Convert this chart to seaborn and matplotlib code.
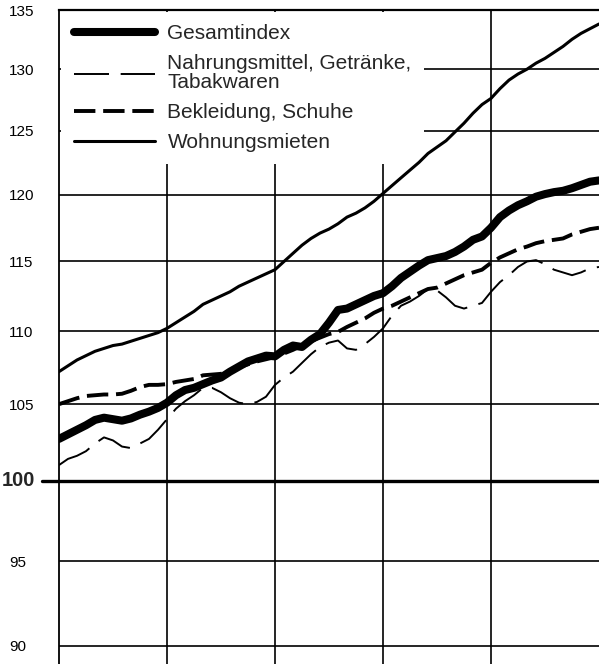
import numpy as np
import pandas as pd
import seaborn as sns
import matplotlib.pyplot as plt
from matplotlib.ticker import NullLocator, NullFormatter
import matplotlib.transforms as mtransforms


# monthly index values (5 years, 12 months each)
monate = list(range(61))

gesamtindex = [102.7, 103.0, 103.3, 103.6, 103.95, 104.1, 104.0, 103.9, 104.05, 104.3,
               104.5, 104.75, 105.1, 105.6, 105.95, 106.1, 106.35, 106.6, 106.8, 107.2,
               107.55, 107.9, 108.1, 108.3, 108.25, 108.7, 109.0, 108.9, 109.4, 109.8,
               110.6, 111.5, 111.6, 111.9, 112.2, 112.5, 112.7, 113.2, 113.8, 114.25,
               114.7, 115.1, 115.25, 115.4, 115.7, 116.1, 116.6, 116.85, 117.5, 118.3,
               118.8, 119.2, 119.5, 119.85, 120.05, 120.2, 120.3, 120.5, 120.75, 121.0,
               121.1]

nahrung = [101.0, 101.4, 101.6, 101.9, 102.4, 102.8, 102.6, 102.2, 102.1, 102.4,
           102.7, 103.3, 104.0, 104.7, 105.2, 105.6, 106.1, 106.1, 105.8, 105.4,
           105.1, 105.0, 105.15, 105.5, 106.3, 106.8, 107.2, 107.8, 108.4, 108.9,
           109.2, 109.35, 108.8, 108.7, 109.1, 109.6, 110.2, 111.1, 111.8, 112.1,
           112.5, 113.0, 112.9, 112.4, 111.8, 111.6, 111.8, 112.0, 112.8, 113.5,
           114.0, 114.6, 115.0, 115.1, 114.8, 114.4, 114.2, 114.0, 114.2, 114.5,
           114.6]

bekleidung = [105.0, 105.2, 105.4, 105.55, 105.6, 105.65, 105.65, 105.7, 105.9, 106.15,
              106.3, 106.3, 106.35, 106.5, 106.6, 106.7, 106.95, 107.0, 107.05, 107.3,
              107.5, 107.7, 107.9, 108.05, 108.2, 108.45, 108.7, 109.0, 109.3, 109.55,
              109.8, 109.95, 110.3, 110.6, 110.9, 111.3, 111.6, 111.8, 112.1, 112.4,
              112.7, 113.0, 113.1, 113.4, 113.7, 114.0, 114.2, 114.4, 114.9, 115.3,
              115.6, 115.9, 116.1, 116.35, 116.5, 116.6, 116.7, 117.0, 117.2, 117.4,
              117.5]

mieten = [107.2, 107.6, 108.0, 108.3, 108.6, 108.8, 109.0, 109.1, 109.3, 109.5,
          109.7, 109.9, 110.2, 110.6, 111.0, 111.4, 111.9, 112.2, 112.5, 112.8,
          113.2, 113.5, 113.8, 114.1, 114.4, 115.0, 115.6, 116.2, 116.7, 117.1,
          117.4, 117.8, 118.3, 118.6, 119.0, 119.5, 120.1, 120.7, 121.3, 121.9,
          122.5, 123.2, 123.7, 124.2, 124.9, 125.6, 126.4, 127.1, 127.6, 128.4,
          129.1, 129.6, 130.0, 130.5, 130.9, 131.4, 131.9, 132.5, 133.0, 133.4,
          133.8]

namen = ["Gesamtindex", "Nahrungsmittel, Getränke,\nTabakwaren",
         "Bekleidung, Schuhe", "Wohnungsmieten"]
y_ticks = [90, 95, 100, 105, 110, 115, 120, 125, 130, 135]
jahresgrenzen = [12, 24, 36, 48]

df = pd.DataFrame({"monat": monate * 4,
                   "wert": gesamtindex + nahrung + bekleidung + mieten,
                   "reihe": np.repeat(namen, len(monate))})

sns.set_style("white")
plt.rcParams["font.family"] = ["Liberation Sans", "DejaVu Sans"]

fig = plt.figure(figsize=(5.99, 6.64), dpi=100)
ax = fig.add_axes([59 / 599, 0, 540 / 599, 654 / 664])

# line styles per series
stile = {
    namen[0]: dict(lw=5.8, linestyle="-", solid_capstyle="round"),
    namen[1]: dict(lw=1.4, linestyle=(0, (18, 6))),
    namen[2]: dict(lw=2.8, linestyle=(0, (5.5, 2.0))),
    namen[3]: dict(lw=2.2, linestyle="-"),
}
for name in namen:
    # lines above the legend box so the white legend never cuts them
    sns.lineplot(data=df[df["reihe"] == name], x="monat", y="wert", ax=ax,
                 color="black", label=name, zorder=6, **stile[name])

ax.set_yscale("log")
ax.set_ylim(88.97, 135)
ax.set_xlim(0, 60)
ax.set_yticks(y_ticks)
ax.set_yticklabels(["" if t == 100 else str(t) for t in y_ticks], fontsize=11)
ax.yaxis.set_minor_locator(NullLocator())
ax.yaxis.set_minor_formatter(NullFormatter())
for lab in ax.get_yticklabels():
    lab.set_horizontalalignment("left")
ax.set_xticks(jahresgrenzen)
ax.set_xticklabels([])
ax.set_xlabel("")
ax.set_ylabel("")

ax.tick_params(axis="y", direction="in", length=3, width=1.2, pad=36, colors="black")
ax.tick_params(axis="x", direction="in", length=3, width=1.2, top=True, bottom=False)

ax.grid(True, which="major", color="black", lw=1.2)
ax.set_axisbelow(True)

# bold 100 baseline extending left of the frame
ax.axhline(100, xmin=-0.032, xmax=1, color="black", lw=2.4, clip_on=False, zorder=2)
trans = mtransforms.blended_transform_factory(ax.transAxes, ax.transData)
ax.text(-0.106, 100, "100", transform=trans, ha="left", va="center",
        fontsize=14.5, fontweight="bold")

for side in ["right", "bottom"]:
    ax.spines[side].set_visible(False)
ax.spines["left"].set_color("black")
ax.spines["left"].set_linewidth(1.3)
ax.spines["top"].set_color("black")
ax.spines["top"].set_linewidth(1.6)

leg = ax.legend(loc="upper left", bbox_to_anchor=(0.004, 0.997), borderaxespad=0,
                fontsize=15, handlelength=3.9, handletextpad=0.6, labelspacing=0.52,
                borderpad=0.6, frameon=True, fancybox=False)
leg.get_frame().set_facecolor("white")
leg.get_frame().set_edgecolor("none")
leg.get_frame().set_alpha(1)
for t in leg.get_texts():
    t.set_linespacing(1.0)

fig.savefig("out.png", dpi=100)
